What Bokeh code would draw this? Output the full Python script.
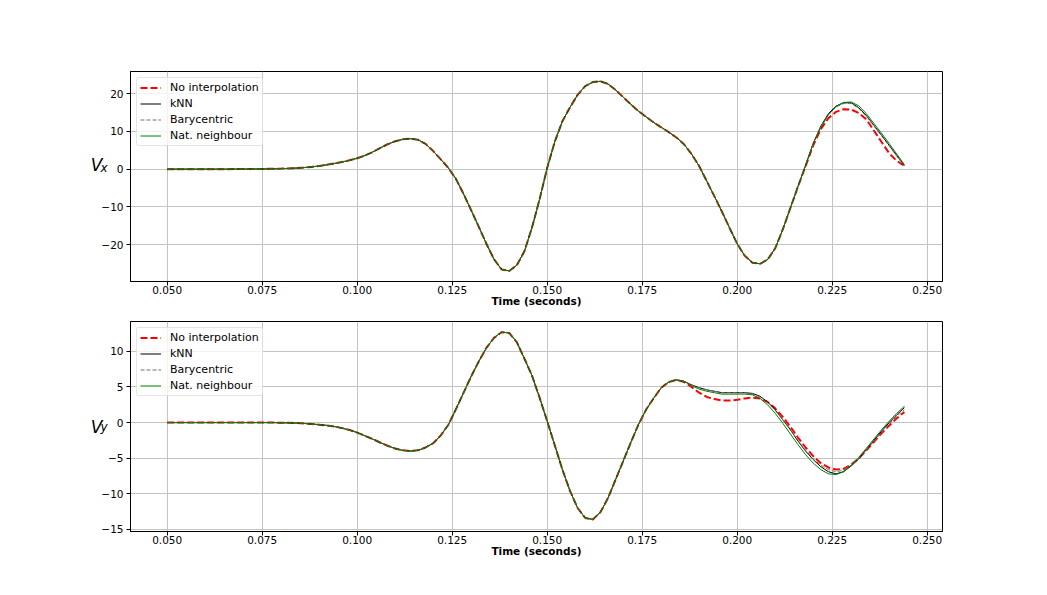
from bokeh.plotting import figure
from bokeh.layouts import column
from bokeh.models import LinearAxis, FixedTicker, PrintfTickFormatter, Range1d
from bokeh.embed import file_html
from bokeh.resources import INLINE

# ---------------- data ----------------
# sampling times (s), 0.050 ... 0.244 every 2 ms
time = [round(0.050 + 0.002 * i, 3) for i in range(98)]

vx_knn = [
    0, 0, 0, 0, 0, 0, 0, 0, 0, 0.01,
    0.02, 0.03, 0.05, 0.07, 0.1, 0.14, 0.2, 0.28, 0.42, 0.6,
    0.85, 1.15, 1.5, 1.9, 2.35, 2.9, 3.6, 4.5, 5.6, 6.6,
    7.4, 7.9, 8.1, 7.8, 6.7, 4.8, 2.6, 0.3, -2.6, -6.6,
    -10.9, -15.3, -19.8, -23.9, -26.6, -27.0, -25.5, -21.8, -15.5, -8.0,
    0.35, 7.3, 12.7, 16.4, 19.7, 22.0, 23.1, 23.3, 22.6, 21.0,
    19.1, 17.2, 15.4, 13.9, 12.4, 11.1, 9.8, 8.4, 6.6, 4.0,
    0.8, -3.2, -7.2, -11.3, -15.6, -19.8, -23.0, -24.8, -25.1, -24.0,
    -21.0, -16.0, -10.3, -4.6, 1.0, 6.8, 11.4, 14.7, 16.7, 17.6,
    17.6, 16.3, 14.2, 11.6, 9.0, 6.3, 3.6, 1.0,
]
vx_noint = vx_knn[:84] + [0.8, 6.3, 10.6, 13.5, 15.2, 15.9, 15.8, 14.9, 13.2,
                          10.2, 7.2, 4.2, 2.2, 0.9]
vx_bary = vx_knn[:86] + [11.3, 14.5, 16.5, 17.4, 17.4, 16.1, 14.0, 11.4, 8.8,
                         6.1, 3.4, 0.9]
vx_natn = vx_knn[:86] + [11.0, 14.4, 16.6, 17.7, 17.8, 16.8, 14.7, 12.1, 9.5,
                         6.8, 4.0, 1.2]

vy_knn = [
    0, 0, 0, 0, 0, 0, 0, 0, 0, 0,
    0, 0, 0, 0, 0, -0.02, -0.04, -0.07, -0.12, -0.2,
    -0.29, -0.4, -0.55, -0.78, -1.05, -1.4, -1.85, -2.3, -2.8, -3.25,
    -3.65, -3.9, -4.0, -3.9, -3.5, -2.9, -1.8, -0.3, 1.9, 4.2,
    6.5, 8.6, 10.5, 11.9, 12.7, 12.6, 11.3, 9.0, 6.6, 3.5,
    0.2, -3.2, -6.6, -9.6, -12.0, -13.4, -13.6, -12.6, -10.6, -8.0,
    -5.4, -2.8, -0.3, 1.8, 3.4, 4.9, 5.7, 6.0, 5.8, 5.3,
    4.9, 4.6, 4.4, 4.2, 4.2, 4.2, 4.2, 4.1, 3.7, 2.9,
    1.8, 0.4, -1.0, -2.6, -4.0, -5.2, -6.2, -6.9, -7.2, -6.9,
    -6.1, -5.1, -3.8, -2.5, -1.2, 0.0, 1.1, 2.1,
]
vy_noint = vy_knn[:68] + [5.7, 5.0, 4.2, 3.6, 3.3, 3.1, 3.1, 3.2, 3.4, 3.5,
                          3.4, 2.9, 2.0, 0.8, -0.6, -2.1, -3.5, -4.7, -5.7, -6.3,
                          -6.6, -6.5, -5.9, -5.0, -3.9, -2.7, -1.5, -0.4, 0.6, 1.5]
vy_bary = vy_knn[:77] + [4.0, 3.6, 2.8, 1.7, 0.4, -1.0, -2.5, -3.9, -5.1, -6.0,
                         -6.6, -6.9, -6.7, -6.0, -5.0, -3.8, -2.6, -1.4, -0.2, 0.9, 1.8]
vy_natn = vy_knn[:68] + [5.8, 5.2, 4.7, 4.4, 4.2, 4.0, 4.0, 4.0, 4.0, 3.9,
                         3.4, 2.5, 1.3, -0.1, -1.6, -3.1, -4.5, -5.7, -6.6, -7.2,
                         -7.3, -6.9, -6.0, -4.9, -3.6, -2.3, -1.0, 0.2, 1.3, 2.3]

series_names = ["No interpolation", "kNN", "Barycentric", "Nat. neighbour"]
x_ticks = [0.050, 0.075, 0.100, 0.125, 0.150, 0.175, 0.200, 0.225, 0.250]
vx_ticks = [-20, -10, 0, 10, 20]
vy_ticks = [-15, -10, -5, 0, 5, 10]

FONT = "DejaVu Sans"
X_START, X_END = 0.04034, 0.25403


def label_axis(text, size, standoff):
    """Tick-less axis used only to place part of the V_x / V_y label."""
    return LinearAxis(
        ticker=FixedTicker(ticks=[]),
        axis_line_color=None, major_tick_line_color=None,
        minor_tick_line_color=None, major_tick_out=0, major_tick_in=0,
        minor_tick_out=0, major_label_standoff=0,
        major_label_text_font_size="0px",
        axis_label=text, axis_label_orientation="horizontal",
        axis_label_text_font=FONT, axis_label_text_font_style="italic",
        axis_label_text_font_size=size, axis_label_text_color="black",
        axis_label_standoff=standoff)


def make_panel(series, y_ticks, y_range, v_text, sub_text, border_top):
    p = figure(frame_width=812, frame_height=210,
               min_border_left=130, min_border_right=60,
               min_border_top=border_top, min_border_bottom=36,
               x_range=Range1d(X_START, X_END), y_range=Range1d(*y_range),
               output_backend="svg", toolbar_location=None,
               background_fill_color="white", border_fill_color="white")
    p.outline_line_color = "black"
    p.outline_line_width = 1
    p.outline_line_alpha = 1

    styles = [
        dict(color="red", line_width=2, line_dash="7 3"),
        dict(color="black", line_width=1),
        dict(color="#707070", line_width=1, line_dash="4 2"),
        dict(color="green", line_width=1),
    ]
    for name, ys, st in zip(series_names, series, styles):
        p.line(time, ys, legend_label=name, **st)

    # axes
    p.xaxis.ticker = FixedTicker(ticks=x_ticks)
    p.xaxis.formatter = PrintfTickFormatter(format="%.3f")
    p.yaxis.ticker = FixedTicker(ticks=y_ticks)
    p.yaxis.major_label_overrides = {
        t: (("\u2212" + str(abs(t))) if t < 0 else str(t)) for t in y_ticks}
    for ax in (p.xaxis[0], p.yaxis[0]):
        ax.major_label_text_font = FONT
        ax.major_label_text_font_size = "10.5px"
        ax.major_label_text_color = "black"
        ax.axis_line_color = "black"
        ax.major_tick_line_color = "black"
        ax.major_tick_out = 4
        ax.major_tick_in = 0
        ax.minor_tick_line_color = None
    p.xaxis.major_label_standoff = 0
    p.yaxis.major_label_standoff = 3
    p.xaxis.axis_label = "Time (seconds)"
    p.xaxis.axis_label_text_font = FONT
    p.xaxis.axis_label_text_font_style = "bold"
    p.xaxis.axis_label_text_font_size = "10.5px"
    p.xaxis.axis_label_text_color = "black"
    p.xaxis.axis_label_standoff = -2

    p.xgrid.grid_line_color = "#c4c4c4"
    p.ygrid.grid_line_color = "#c4c4c4"
    p.xgrid.grid_line_width = 1
    p.ygrid.grid_line_width = 1

    # y label: italic V with subscript, built from two tick-less axes
    p.add_layout(label_axis(sub_text, "12px", -9), "left")
    p.add_layout(label_axis(v_text, "17px", -5), "left")

    lg = p.legend[0]
    lg.location = "top_left"
    lg.margin = 6
    lg.padding = 3
    lg.spacing = 3
    lg.label_text_font = FONT
    lg.label_text_font_size = "11px"
    lg.label_text_color = "black"
    lg.label_height = 13
    lg.glyph_height = 13
    lg.glyph_width = 21
    lg.label_standoff = 9
    lg.border_line_color = "#cccccc"
    lg.border_line_width = 1
    lg.background_fill_color = "white"
    lg.background_fill_alpha = 0.8
    try:
        lg.border_radius = 3
    except Exception:
        pass
    return p


p_top = make_panel([vx_noint, vx_knn, vx_bary, vx_natn], vx_ticks,
                   (-29.8, 25.9), "V\n ", "x\n ", 71)
p_bot = make_panel([vy_noint, vy_knn, vy_bary, vy_natn], vy_ticks,
                   (-15.3, 14.2), "V", "y", 4)

layout = column(p_top, p_bot)
open("out.html", "w").write(file_html(layout, INLINE))
